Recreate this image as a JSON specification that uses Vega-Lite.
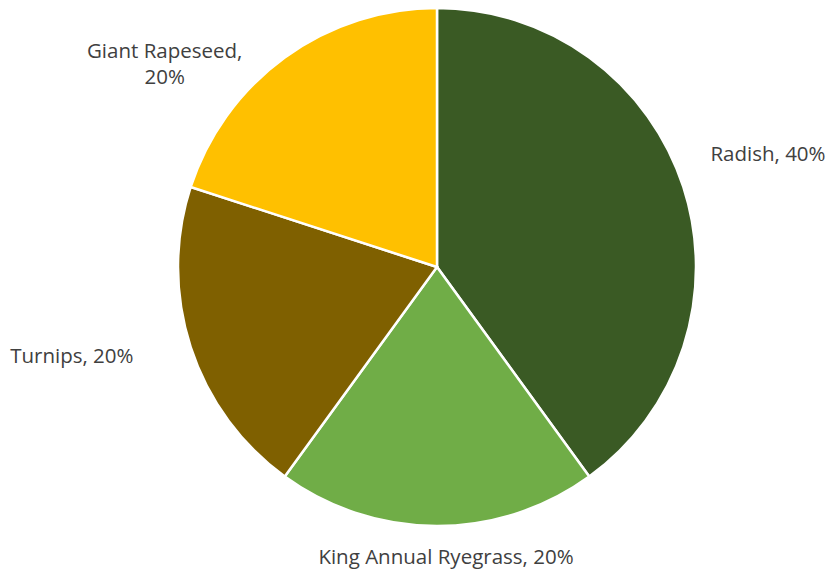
{
  "$schema": "https://vega.github.io/schema/vega-lite/v6.json",
  "autosize": {"type": "none"},
  "width": 804,
  "height": 534,
  "padding": {"left": 35, "right": 0, "top": 0, "bottom": 40},
  "background": "white",
  "config": {"view": {"stroke": null}, "text": {"font": "Open Sans", "fontSize": 20.5, "fill": "#404040"}},
  "data": {"values": [
    {"crop": "Radish", "share": 40, "idx": 1, "label": "Radish, 40%"},
    {"crop": "King Annual Ryegrass", "share": 20, "idx": 2, "label": "King Annual Ryegrass, 20%"},
    {"crop": "Turnips", "share": 20, "idx": 3, "label": "Turnips, 20%"},
    {"crop": "Giant Rapeseed", "share": 20, "idx": 4, "label": "Giant Rapeseed,\n20%"}
  ]},
  "encoding": {
    "theta": {"field": "share", "type": "quantitative", "stack": true},
    "order": {"field": "idx", "type": "quantitative"}
  },
  "layer": [
    {
      "mark": {"type": "arc", "outerRadius": 259, "stroke": "white", "strokeWidth": 2.5},
      "encoding": {
        "color": {"field": "crop", "type": "nominal", "legend": null,
          "scale": {"domain": ["Radish", "King Annual Ryegrass", "Turnips", "Giant Rapeseed"],
                    "range": ["#3A5A24", "#70AD47", "#7F6000", "#FFC000"]}}
      }
    },
    {
      "mark": {"type": "text", "radius": 348, "dy": -4, "align": "center", "baseline": "middle"},
      "encoding": {"text": {"condition": {"test": "datum.crop === 'Radish'", "field": "label"}, "value": ""}}
    },
    {
      "mark": {"type": "text", "radius": 291, "dx": 9, "align": "center", "baseline": "middle"},
      "encoding": {"text": {"condition": {"test": "datum.crop === 'King Annual Ryegrass'", "field": "label"}, "value": ""}}
    },
    {
      "mark": {"type": "text", "radius": 384, "dy": -29, "align": "center", "baseline": "middle"},
      "encoding": {"text": {"condition": {"test": "datum.crop === 'Turnips'", "field": "label"}, "value": ""}}
    },
    {
      "mark": {"type": "text", "radius": 300, "dx": -96, "dy": 28, "align": "center", "baseline": "middle", "lineBreak": "\n", "lineHeight": 26},
      "encoding": {"text": {"condition": {"test": "datum.crop === 'Giant Rapeseed'", "field": "label"}, "value": ""}}
    }
  ]
}
